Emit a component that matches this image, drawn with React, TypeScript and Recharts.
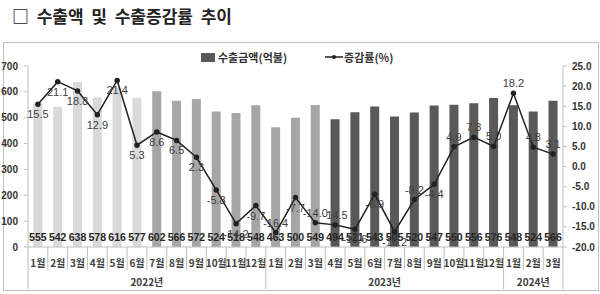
import React from 'react'
import {
    Bar,
    Cell,
    ComposedChart,
    LabelList,
    Legend,
    Line,
    XAxis,
    YAxis,
} from 'recharts'

// 월별 수출금액(억불)과 전년동월대비 증감률(%)
const months = [
    '1월', '2월', '3월', '4월', '5월', '6월', '7월', '8월', '9월', '10월', '11월', '12월',
    '1월', '2월', '3월', '4월', '5월', '6월', '7월', '8월', '9월', '10월', '11월', '12월',
    '1월', '2월', '3월',
]
const years = ['2022년', '2023년', '2024년']
const monthsPerYear = [12, 12, 3]

const exportAmount = [
    555, 542, 638, 578, 616, 577, 602, 566, 572, 524, 518, 548,
    463, 500, 549, 494, 521, 543, 505, 520, 547, 550, 556, 576,
    548, 524, 566,
]
const changeRate = [
    15.5, 21.1, 18.8, 12.9, 21.4, 5.3, 8.6, 6.5, 2.3, -5.8, -14.2, -9.7,
    -16.4, -7.7, -14.0, -14.5, -15.6, -6.9, -16.2, -8.2, -4.4, 4.9, 7.3, 5.0,
    18.2, 4.8, 3.1,
]
const amountTicks = [0, 100, 200, 300, 400, 500, 600, 700]
const rateTicks = [-20, -15, -10, -5, 0, 5, 10, 15, 20, 25]

const data = months.map((m, i) => ({
    month: m,
    amount: exportAmount[i],
    rate: changeRate[i],
}))

// layout
const W = 600
const H = 294
const PLOT_LEFT = 28
const PLOT_RIGHT = 563
const BOX_BOTTOM = 289
const BAND = (PLOT_RIGHT - PLOT_LEFT) / months.length
const FONT = "'Liberation Sans', 'Noto Sans CJK KR', sans-serif"
const KFONT = "'Noto Sans CJK KR', 'Liberation Sans', sans-serif"
const AXIS_GRAY = '#bfbfbf'

// 점 위쪽에 라벨을 두는 지점
const rateLabelAbove = new Set([12, 14, 15, 19, 21, 22, 23, 24, 25, 26])

const barColor = (i: number) => (i < 6 ? '#d9d9d9' : i < 15 ? '#a6a6a6' : '#595959')

const yearStarts = monthsPerYear.map((_, k) =>
    monthsPerYear.slice(0, k).reduce((a, b) => a + b, 0)
)

function MonthTick(props: any) {
    const { x, y, payload } = props
    const i = payload.index
    const left = x - BAND / 2
    const yearIdx = yearStarts.indexOf(i)
    const isLast = i === months.length - 1
    return (
        <g>
            {yearIdx >= 0 ? (
                <line x1={left} x2={left} y1={y} y2={BOX_BOTTOM} stroke={AXIS_GRAY} />
            ) : (
                <line x1={left} x2={left} y1={y} y2={y + 23} stroke={AXIS_GRAY} />
            )}
            {isLast && (
                <line x1={x + BAND / 2} x2={x + BAND / 2} y1={y} y2={BOX_BOTTOM} stroke={AXIS_GRAY} />
            )}
            <text
                x={x}
                y={y + 20}
                textAnchor='middle'
                fontSize={10}
                fontWeight='bold'
                fill='#404040'
                fontFamily={KFONT}
            >
                {payload.value}
            </text>
            {yearIdx >= 0 && (
                <text
                    x={left + (monthsPerYear[yearIdx] * BAND) / 2}
                    y={y + 39}
                    textAnchor='middle'
                    fontSize={10}
                    fontWeight='bold'
                    fill='#404040'
                    fontFamily={KFONT}
                >
                    {years[yearIdx]}
                </text>
            )}
        </g>
    )
}

function AmountLabel(props: any) {
    const { x, y, width, height, value } = props
    return (
        <text
            x={x + width / 2}
            y={y + height - 6}
            textAnchor='middle'
            fontSize={10.5}
            fontWeight='bold'
            fill='#262626'
            fontFamily={FONT}
        >
            {value}
        </text>
    )
}

function RateLabel(props: any) {
    const { x, y, value, index } = props
    const above = rateLabelAbove.has(index)
    return (
        <text
            x={x}
            y={above ? y - 6 : y + 14}
            textAnchor='middle'
            fontSize={11}
            fill='#404040'
            fontFamily={FONT}
        >
            {Number(value).toFixed(1)}
        </text>
    )
}

function LegendContent() {
    return (
        <div
            style={{
                display: 'flex',
                alignItems: 'center',
                fontFamily: KFONT,
                fontSize: 11,
                fontWeight: 'bold',
                color: '#333',
            }}
        >
            <span style={{ width: 14, height: 9, background: '#595959', display: 'inline-block', marginRight: 3 }} />
            <span>수출금액(억불)</span>
            <svg width={18} height={10} style={{ marginLeft: 38, marginRight: 1 }}>
                <line x1={0} x2={18} y1={5} y2={5} stroke='#222' strokeWidth={1.5} />
                <circle cx={9} cy={5} r={2} fill='#222' />
            </svg>
            <span>증감률(%)</span>
        </div>
    )
}

export default function App() {
    return (
        <div style={{ position: 'absolute', left: 0, top: 0, width: W, height: H, background: '#fff' }}>
            <div
                style={{
                    position: 'absolute',
                    left: 12,
                    top: 3,
                    fontFamily: KFONT,
                    fontSize: 17,
                    fontWeight: 'bold',
                    color: '#222',
                    whiteSpace: 'pre',
                }}
            >
                □  수출액  및  수출증감률  추이
            </div>
            <div
                style={{
                    position: 'absolute',
                    left: 3,
                    top: 42,
                    width: 594,
                    height: BOX_BOTTOM - 42,
                    border: '1px solid #bfbfbf',
                }}
            />
            <div style={{ position: 'absolute', left: 0, top: 0 }}>
                <ComposedChart
                    width={W}
                    height={H}
                    data={data}
                    margin={{ top: 50, right: 0, bottom: 5, left: 0 }}
                    barCategoryGap='27%'
                >
                    <XAxis
                        dataKey='month'
                        height={42}
                        interval={0}
                        tickLine={false}
                        tickSize={0}
                        tickMargin={0}
                        axisLine={{ stroke: AXIS_GRAY }}
                        tick={<MonthTick />}
                    />
                    <YAxis
                        yAxisId='amt'
                        width={28}
                        domain={[0, 700]}
                        ticks={amountTicks}
                        interval={0}
                        tickSize={4}
                        tickMargin={6}
                        axisLine={{ stroke: AXIS_GRAY }}
                        tickLine={{ stroke: AXIS_GRAY }}
                        tick={{ fontSize: 10, fontWeight: 'bold', fill: '#333', fontFamily: FONT }}
                    />
                    <YAxis
                        yAxisId='rate'
                        orientation='right'
                        width={37}
                        domain={[-20, 25]}
                        ticks={rateTicks}
                        interval={0}
                        tickSize={4}
                        tickMargin={5}
                        axisLine={{ stroke: AXIS_GRAY }}
                        tickLine={{ stroke: AXIS_GRAY }}
                        tickFormatter={(v: number) => v.toFixed(1)}
                        tick={{ fontSize: 10, fontWeight: 'bold', fill: '#333', fontFamily: FONT }}
                    />
                    <Legend
                        verticalAlign='top'
                        content={<LegendContent />}
                        wrapperStyle={{ position: 'absolute', top: 49, left: 201, width: 'auto' }}
                    />
                    <Bar
                        yAxisId='amt'
                        dataKey='amount'
                        name='수출금액(억불)'
                        isAnimationActive={false}
                    >
                        {data.map((_, i) => (
                            <Cell key={i} fill={barColor(i)} />
                        ))}
                        <LabelList dataKey='amount' content={<AmountLabel />} />
                    </Bar>
                    <Line
                        yAxisId='rate'
                        dataKey='rate'
                        name='증감률(%)'
                        stroke='#222'
                        strokeWidth={1.5}
                        dot={{ r: 2, fill: '#222', stroke: '#222' }}
                        isAnimationActive={false}
                    >
                        <LabelList dataKey='rate' content={<RateLabel />} />
                    </Line>
                </ComposedChart>
            </div>
        </div>
    )
}
